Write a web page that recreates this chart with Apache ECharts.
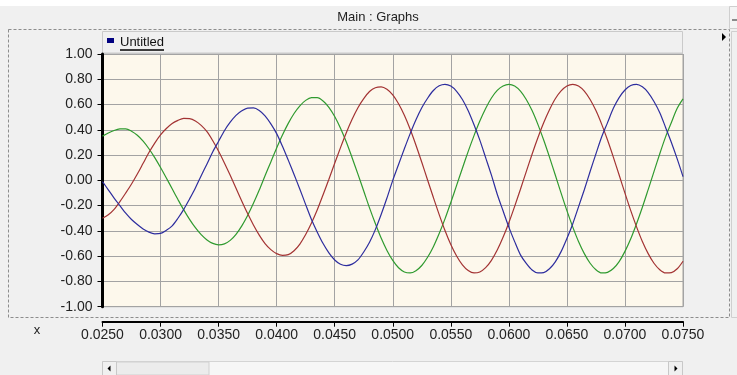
<!DOCTYPE html>
<html><head><meta charset="utf-8">
<script src="https://cdn.jsdelivr.net/npm/echarts@6/dist/echarts.min.js"></script>
<style>html,body{margin:0;padding:0;background:#f0f0f0;}#c{width:737px;height:375px;}</style>
</head><body><div id="c"></div>
<script>
const chartTitle = 'Main : Graphs';
const legendLabel = 'Untitled';
const xAxisName = 'x';

const xValues = [
  0.0250,0.0255,0.0260,0.0265,0.0270,0.0275,0.0280,0.0285,0.0290,0.0295,
  0.0300,0.0305,0.0310,0.0315,0.0320,0.0325,0.0330,0.0335,0.0340,0.0345,
  0.0350,0.0355,0.0360,0.0365,0.0370,0.0375,0.0380,0.0385,0.0390,0.0395,
  0.0400,0.0405,0.0410,0.0415,0.0420,0.0425,0.0430,0.0435,0.0440,0.0445,
  0.0450,0.0455,0.0460,0.0465,0.0470,0.0475,0.0480,0.0485,0.0490,0.0495,
  0.0500,0.0505,0.0510,0.0515,0.0520,0.0525,0.0530,0.0535,0.0540,0.0545,
  0.0550,0.0555,0.0560,0.0565,0.0570,0.0575,0.0580,0.0585,0.0590,0.0595,
  0.0600,0.0605,0.0610,0.0615,0.0620,0.0625,0.0630,0.0635,0.0640,0.0645,
  0.0650,0.0655,0.0660,0.0665,0.0670,0.0675,0.0680,0.0685,0.0690,0.0695,
  0.0700,0.0705,0.0710,0.0715,0.0720,0.0725,0.0730,0.0735,0.0740,0.0745,0.0750];

const blueValues = [
  -0.01,-0.075,-0.14,-0.20,-0.26,-0.31,-0.35,-0.385,-0.41,-0.423,
  -0.42,-0.395,-0.36,-0.30,-0.23,-0.147,-0.06,0.037,0.13,0.226,
  0.31,0.393,0.46,0.514,0.55,0.572,0.573,0.553,0.51,0.447,
  0.37,0.27,0.16,0.046,-0.07,-0.192,-0.31,-0.41,-0.50,-0.574,
  -0.63,-0.664,-0.675,-0.663,-0.63,-0.567,-0.49,-0.39,-0.27,-0.14,
  0.00,0.125,0.25,0.37,0.48,0.575,0.65,0.711,0.748,0.76,
  0.746,0.705,0.64,0.551,0.44,0.318,0.18,0.041,-0.11,-0.241,
  -0.37,-0.485,-0.59,-0.658,-0.71,-0.733,-0.73,-0.70,-0.645,-0.564,
  -0.46,-0.345,-0.21,-0.074,0.07,0.21,0.345,0.457,0.57,0.655,
  0.715,0.751,0.76,0.74,0.695,0.624,0.535,0.419,0.30,0.17,0.03];

const redValues = [
  -0.30,-0.273,-0.23,-0.168,-0.10,-0.029,0.05,0.135,0.22,0.295,
  0.36,0.41,0.45,0.475,0.49,0.488,0.47,0.435,0.385,0.313,
  0.23,0.138,0.04,-0.063,-0.165,-0.263,-0.353,-0.433,-0.50,-0.548,
  -0.58,-0.594,-0.588,-0.557,-0.504,-0.429,-0.338,-0.233,-0.114,0.009,
  0.135,0.259,0.377,0.483,0.575,0.647,0.703,0.733,0.74,0.721,
  0.676,0.606,0.515,0.404,0.278,0.143,0.003,-0.136,-0.271,-0.397,
  -0.508,-0.599,-0.669,-0.714,-0.733,-0.725,-0.691,-0.633,-0.552,-0.451,
  -0.335,-0.206,-0.07,0.069,0.207,0.337,0.456,0.559,0.646,0.708,
  0.747,0.76,0.747,0.706,0.64,0.552,0.443,0.319,0.184,0.042,
  -0.101,-0.24,-0.368,-0.484,-0.58,-0.656,-0.707,-0.733,-0.73,-0.70,-0.64];

const greenValues = [
  0.35,0.375,0.395,0.407,0.408,0.389,0.357,0.31,0.25,0.18,
  0.102,0.019,-0.067,-0.152,-0.234,-0.309,-0.375,-0.43,-0.472,-0.499,
  -0.51,-0.503,-0.475,-0.427,-0.36,-0.278,-0.182,-0.077,0.036,0.146,
  0.256,0.359,0.451,0.529,0.59,0.633,0.654,0.654,0.628,0.578,
  0.505,0.412,0.303,0.179,0.049,-0.084,-0.218,-0.342,-0.457,-0.555,
  -0.634,-0.692,-0.725,-0.733,-0.715,-0.674,-0.609,-0.525,-0.421,-0.305,
  -0.175,-0.04,0.096,0.229,0.354,0.469,0.569,0.652,0.712,0.747,
  0.76,0.747,0.706,0.64,0.552,0.443,0.319,0.184,0.042,-0.101,
  -0.24,-0.368,-0.484,-0.58,-0.656,-0.707,-0.733,-0.728,-0.698,-0.643,
  -0.562,-0.462,-0.343,-0.213,-0.073,0.069,0.211,0.344,0.458,0.57,0.645];

const font = '"Liberation Sans", Arial, sans-serif';
const pair = arr => xValues.map((x, i) => [x, arr[i]]);
const chart = echarts.init(document.getElementById('c'), null, {renderer: 'canvas'});

function txt(text, x, y, size, align, color) {
  return {type: 'text', x: x, y: y, z: 10, style: {text: text, fill: color || '#222',
    font: size + 'px ' + font, align: align, verticalAlign: 'middle',
    textAlign: align, textVerticalAlign: 'middle'}};
}

const option = {
  animation: false,
  backgroundColor: '#f0f0f0',
  grid: {left: 102.5, right: 54, top: 54, bottom: 68.3, show: true,
    backgroundColor: '#fdf8ec', borderColor: '#a3a3a3', borderWidth: 1},
  xAxis: {type: 'value', min: 0.025, max: 0.075, interval: 0.005, offset: 15,
    axisLine: {show: true, onZero: false, lineStyle: {color: '#000', width: 2}},
    axisTick: {show: true, length: 5, lineStyle: {color: '#000', width: 1}},
    axisLabel: {formatter: v => v.toFixed(4), color: '#222', fontSize: 14, fontFamily: font,
      margin: 6, showMinLabel: true, showMaxLabel: true, hideOverlap: false},
    splitLine: {show: true, lineStyle: {color: '#a3a3a3', width: 1}}},
  yAxis: {type: 'value', min: -1, max: 1, interval: 0.2,
    axisLine: {show: true, onZero: false, lineStyle: {color: '#000', width: 3}},
    axisTick: {show: true, length: 5, lineStyle: {color: '#000', width: 1}},
    axisLabel: {formatter: v => v.toFixed(2), color: '#222', fontSize: 14, fontFamily: font, margin: 10},
    splitLine: {show: true, lineStyle: {color: '#a3a3a3', width: 1}}},
  series: [
    {name: 'green', type: 'line', data: pair(greenValues), showSymbol: false, smooth: 0.3,
      lineStyle: {color: '#2f9a2f', width: 1.2}, itemStyle: {color: '#2f9a2f'}},
    {name: 'red', type: 'line', data: pair(redValues), showSymbol: false, smooth: 0.3,
      lineStyle: {color: '#a33333', width: 1.2}, itemStyle: {color: '#a33333'}},
    {name: 'blue', type: 'line', data: pair(blueValues), showSymbol: false, smooth: 0.3,
      lineStyle: {color: '#2d2d9e', width: 1.2}, itemStyle: {color: '#2d2d9e'}}
  ],
  graphic: [
    {type: 'rect', shape: {x: 0, y: 0, width: 737, height: 6}, style: {fill: '#ffffff'}},
    txt(chartTitle, 378, 17, 13, 'center', '#222'),
    {type: 'rect', shape: {x: 729.5, y: 6.5, width: 8, height: 22}, style: {fill: '#f4f4f4', stroke: '#cfcfcf'}},
    {type: 'line', shape: {x1: 732, y1: 20, x2: 737, y2: 20}, style: {stroke: '#222', lineWidth: 1}},
    {type: 'rect', shape: {x: 8.5, y: 29.5, width: 721, height: 288},
      style: {fill: null, stroke: '#8c8c8c', lineWidth: 1, lineDash: [3, 2]}},
    {type: 'rect', shape: {x: 731.5, y: 31.5, width: 6, height: 286}, style: {fill: '#f0f0f0', stroke: '#cfcfcf'}},
    {type: 'rect', shape: {x: 102.5, y: 31.5, width: 580, height: 21.5}, style: {fill: '#f0f0f0', stroke: '#cacaca'}},
    {type: 'rect', shape: {x: 107, y: 38, width: 7, height: 5}, style: {fill: '#000080'}},
    txt(legendLabel, 120, 42, 13, 'left', '#111'),
    {type: 'line', shape: {x1: 120, y1: 50, x2: 164, y2: 50}, style: {stroke: '#000', lineWidth: 1.5}},
    {type: 'polygon', shape: {points: [[722, 33], [726, 37], [722, 41]]}, style: {fill: '#000'}},
    txt(xAxisName, 37, 330, 13, 'center', '#222'),
    {type: 'rect', shape: {x: 102.5, y: 361.5, width: 580, height: 14}, style: {fill: '#f6f6f6', stroke: '#d4d4d4'}},
    {type: 'rect', shape: {x: 116.5, y: 362, width: 92.5, height: 13}, style: {fill: '#ececec', stroke: '#d0d0d0'}},
    {type: 'rect', shape: {x: 102.5, y: 361.5, width: 14, height: 14}, style: {fill: '#f0f0f0', stroke: '#c8c8c8'}},
    {type: 'rect', shape: {x: 668.5, y: 361.5, width: 14, height: 14}, style: {fill: '#f0f0f0', stroke: '#c8c8c8'}},
    {type: 'polygon', shape: {points: [[107.5, 368.5], [110.5, 365.5], [110.5, 371.5]]}, style: {fill: '#000'}},
    {type: 'polygon', shape: {points: [[677.5, 368.5], [674.5, 365.5], [674.5, 371.5]]}, style: {fill: '#000'}}
  ]
};
chart.setOption(option);
</script></body></html>
